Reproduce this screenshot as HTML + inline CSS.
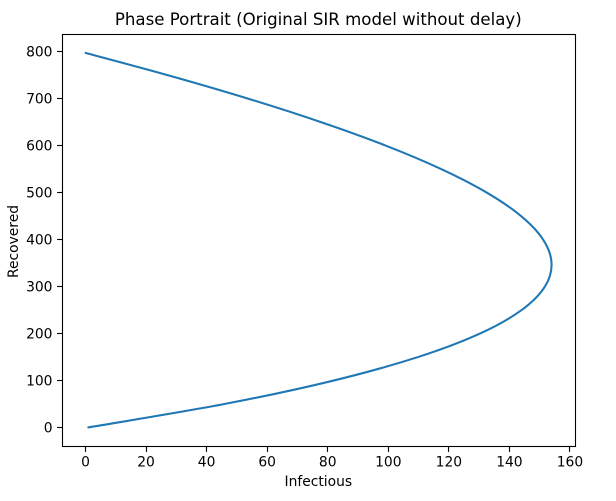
<!DOCTYPE html>
<html lang="en">
<head>
<meta charset="utf-8">
<title>Phase Portrait (Original SIR model without delay)</title>
<style>
html,body{margin:0;padding:0;background:#fff;width:616px;height:501px;overflow:hidden}
svg{display:block}
text{font-family:"DejaVu Sans",sans-serif;fill:#000}
</style>
</head>
<body>
<svg id="chart" xmlns="http://www.w3.org/2000/svg" width="616" height="501" viewBox="0 0 616 501">
  <rect x="0" y="0" width="616" height="501" fill="#fff"/>
  <g id="plot"></g>
  <rect x="62.5" y="34.5" width="513" height="412" fill="none" stroke="#000" stroke-width="1.1"/>
  <g id="x-ticks"></g>
  <g id="y-ticks"></g>
  <text x="318.3" y="25" font-size="16.63" text-anchor="middle">Phase Portrait (Original SIR model without delay)</text>
  <text x="318.3" y="486" font-size="13.85" text-anchor="middle">Infectious</text>
  <text transform="translate(18 241.5) rotate(-90)" font-size="13.85" text-anchor="middle">Recovered</text>
</svg>
<script>
const infectious = [1, 46.07, 82.09, 109.92, 130.35, 144.08, 151.74, 153.91, 151.12, 143.84, 132.49, 117.46, 99.11, 77.74, 53.65, 27.09, 0.1];
const recovered = [0, 50, 100, 150, 200, 250, 300, 350, 400, 450, 500, 550, 600, 650, 700, 750, 797];
const xTickValues = [0, 20, 40, 60, 80, 100, 120, 140, 160];
const yTickValues = [0, 100, 200, 300, 400, 500, 600, 700, 800];

const NS = 'http://www.w3.org/2000/svg';
function xScale(v) { return 85.5 + v * 3.028; }
function yScale(v) { return 427.4 - v * 0.4697; }

function smoothPath(points) {
  let d = 'M' + points[0][0].toFixed(2) + ' ' + points[0][1].toFixed(2);
  for (let i = 0; i < points.length - 1; i++) {
    const p0 = points[Math.max(i - 1, 0)];
    const p1 = points[i];
    const p2 = points[i + 1];
    const p3 = points[Math.min(i + 2, points.length - 1)];
    const c1x = p1[0] + (p2[0] - p0[0]) / 6;
    const c1y = p1[1] + (p2[1] - p0[1]) / 6;
    const c2x = p2[0] - (p3[0] - p1[0]) / 6;
    const c2y = p2[1] - (p3[1] - p1[1]) / 6;
    d += 'C' + c1x.toFixed(2) + ' ' + c1y.toFixed(2) + ' ' + c2x.toFixed(2) + ' ' + c2y.toFixed(2) + ' ' + p2[0].toFixed(2) + ' ' + p2[1].toFixed(2);
  }
  return d;
}

const plot = document.getElementById('plot');
const line = document.createElementNS(NS, 'path');


line.setAttribute('d', smoothPath(infectious.map((v, i) => [xScale(v), yScale(recovered[i])])));
line.setAttribute('fill', 'none');
line.setAttribute('stroke', '#1f77b4');
line.setAttribute('stroke-width', '2.08');
line.setAttribute('stroke-linecap', 'square');
line.setAttribute('stroke-linejoin', 'round');
plot.appendChild(line);

const xGroup = document.getElementById('x-ticks');
xTickValues.forEach(function (v) {
  const px = Math.round(xScale(v) - 0.5) + 0.5;
  const tick = document.createElementNS(NS, 'line');
  
  
  tick.setAttribute('x1', px);
  tick.setAttribute('x2', px);
  tick.setAttribute('y1', 447);
  tick.setAttribute('y2', 451.9);
  tick.setAttribute('stroke', '#000');
  tick.setAttribute('stroke-width', '1.1');
  xGroup.appendChild(tick);
  const label = document.createElementNS(NS, 'text');
  
  
  label.setAttribute('x', xScale(v));
  label.setAttribute('y', 466.5);
  label.setAttribute('font-size', '13.85');
  label.setAttribute('text-anchor', 'middle');
  label.textContent = String(v);
  xGroup.appendChild(label);
});

const yGroup = document.getElementById('y-ticks');
yTickValues.forEach(function (v) {
  const py = Math.round(yScale(v) - 0.5) + 0.5;
  const tick = document.createElementNS(NS, 'line');
  
  
  tick.setAttribute('x1', 57.1);
  tick.setAttribute('x2', 62);
  tick.setAttribute('y1', py);
  tick.setAttribute('y2', py);
  tick.setAttribute('stroke', '#000');
  tick.setAttribute('stroke-width', '1.1');
  yGroup.appendChild(tick);
  const label = document.createElementNS(NS, 'text');
  
  
  label.setAttribute('x', 52.5);
  label.setAttribute('y', yScale(v) + 5.1);
  label.setAttribute('font-size', '13.85');
  label.setAttribute('text-anchor', 'end');
  label.textContent = String(v);
  yGroup.appendChild(label);
});
</script>
</body>
</html>
